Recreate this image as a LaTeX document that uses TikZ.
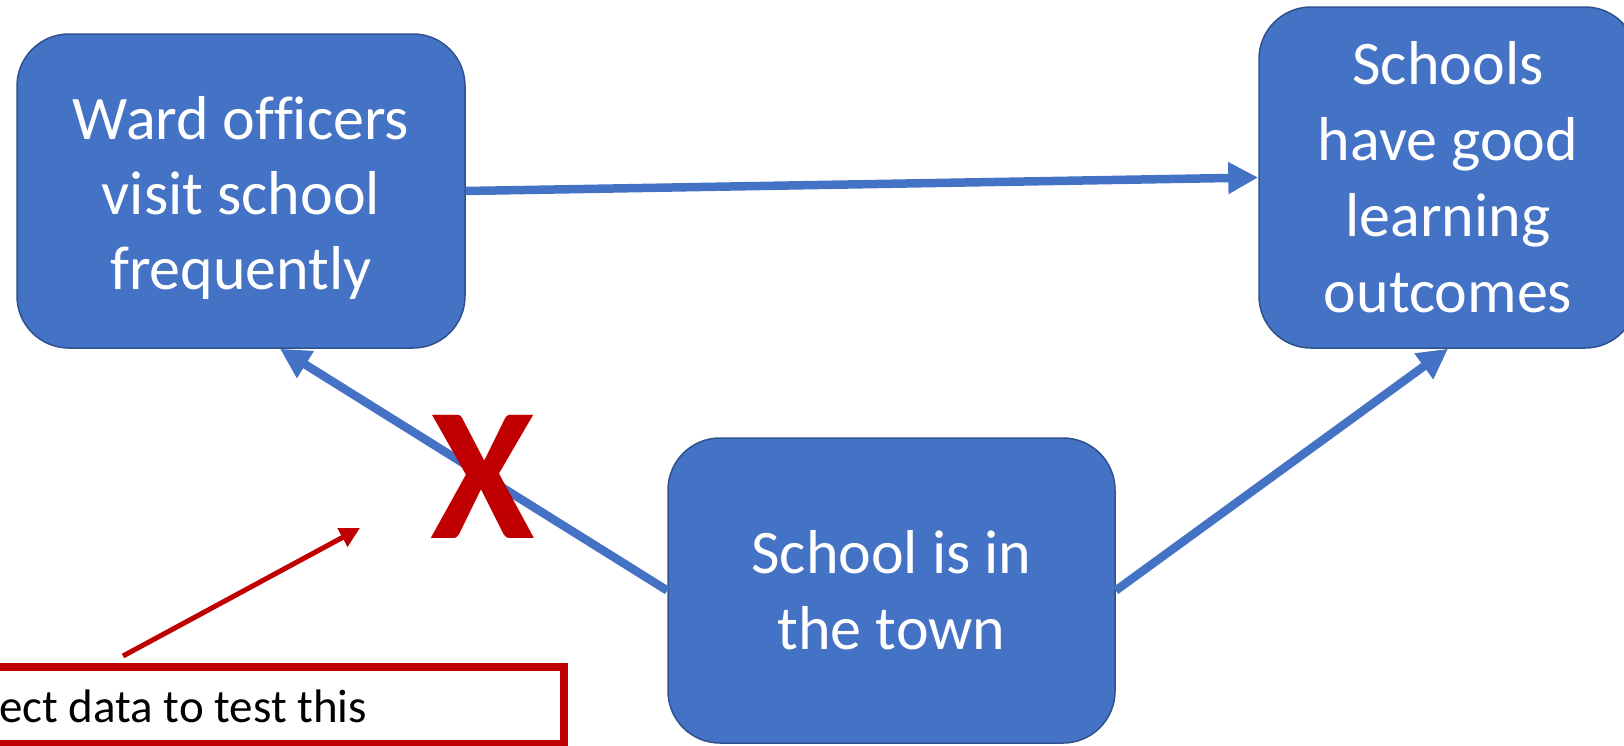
\documentclass[tikz,border=0pt]{standalone}
\usepackage{fontspec}
\setmainfont{Carlito}[Ligatures=NoCommon]
\usetikzlibrary{arrows.meta,calc}
\definecolor{obox}{HTML}{4472C4}
\definecolor{oborder}{HTML}{2F528F}
\definecolor{ored}{HTML}{C00000}
\begin{document}
\begin{tikzpicture}[x=1pt,y=-1pt,
  box/.style={draw=oborder, line width=1.5pt, fill=obox, rounded corners=52pt,
    text=white, align=center, font=\fontsize{62}{76}\selectfont, inner sep=0pt},
  boxtext/.style={text=white, align=center, font=\fontsize{62}{75}\selectfont, inner sep=0pt},
  barrow/.style={draw=obox, line width=8.5pt, -{Triangle[length=30pt,width=30pt]}},
  rarrow/.style={draw=ored, line width=5pt, -{Triangle[length=20pt,width=20pt]}},
  note/.style={draw=ored, line width=7.5pt, inner sep=0pt, minimum width=640pt, minimum height=77pt},
  notetext/.style={inner sep=0pt, anchor=base west, font=\fontsize{47}{56}\selectfont},
  cross/.style={text=ored, font=\fontsize{190}{190}\selectfont\bfseries, inner sep=0pt}
]
\useasboundingbox (0,0) rectangle (1624,745);
\clip (0,0) rectangle (1624,745);

\node[box, minimum width=448pt, minimum height=314pt] (ward) at (241,191) {};
\node[boxtext] (wardtxt) at ($(ward.center)+(0,7)$) {Ward officers\\visit school\\frequently};
\node[box, minimum width=378pt, minimum height=341pt] (outc) at (1448,177.5)
  {Schools\\have good\\learning\\outcomes};
\node[box, minimum width=447pt, minimum height=305pt] (town) at (891.5,590.5)
  {School is in\\the town};

\draw[barrow] (ward.east) -- (outc.west);
\draw[barrow] (town.west) -- ($(ward.south)+(39,0)$);
\draw[barrow] (town.east) -- (outc.south);

\node[cross] (x) at (483,477) {X};

\node[note] (box) at (244,705.5) {};
\node[notetext] (boxtxt) at (-1,722) {ect data to test this};
\coordinate (rtail) at (123,656);
\coordinate (rtip) at (360,528);
\draw[rarrow] (rtail) -- (rtip);
\end{tikzpicture}
\end{document}
